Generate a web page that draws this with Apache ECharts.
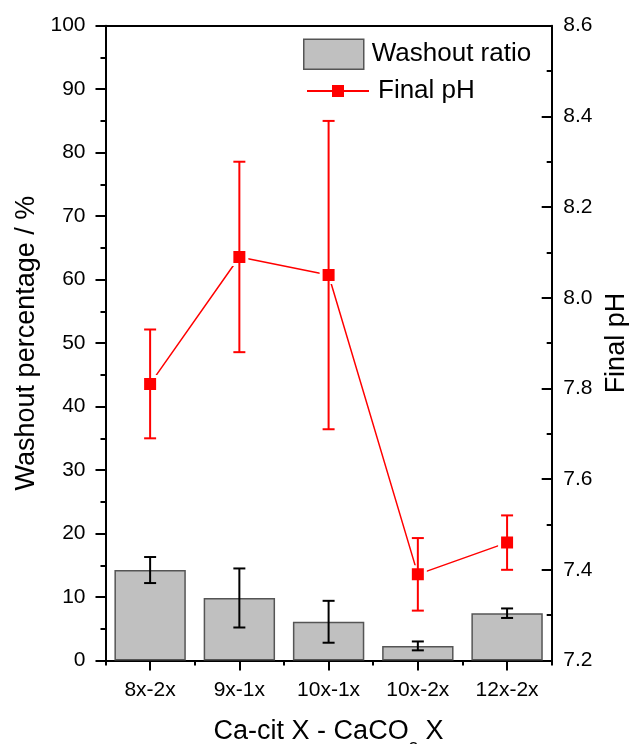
<!DOCTYPE html>
<html>
<head>
<meta charset="utf-8">
<script src="https://cdn.jsdelivr.net/npm/echarts@6/dist/echarts.min.js"></script>
<style>
  html, body { margin: 0; padding: 0; background: #ffffff; }
  #chart { width: 629px; height: 744px; }
</style>
</head>
<body>
<div id="chart"></div>
<script>
// Sample groups (Ca-citrate dose - CaCO3 dose)
const categories = ['8x-2x', '9x-1x', '10x-1x', '10x-2x', '12x-2x'];

// Washout percentage (%) with standard deviation
const washout = [14.25, 9.85, 6.1, 2.3, 7.45];
const washoutErr = [2.05, 4.65, 3.3, 0.7, 0.75];

// Final pH with standard deviation
const finalPH = [7.81, 8.09, 8.05, 7.39, 7.46];
const finalPHErr = [0.12, 0.21, 0.34, 0.08, 0.06];

const FONT = '"Liberation Sans", Arial, sans-serif';

function errorData(values, errs) {
  return values.map((v, i) => [i, v - errs[i], v + errs[i]]);
}

// Vertical whisker with caps, drawn through the axis scales
function errorRenderer(color) {
  return function (params, api) {
    const x = api.value(0);
    const top = api.coord([x, api.value(2)]);
    const bot = api.coord([x, api.value(1)]);
    const half = 6;
    const style = { stroke: color, lineWidth: 2, fill: null };
    return {
      type: 'group',
      children: [
        { type: 'line', shape: { x1: top[0], y1: top[1], x2: bot[0], y2: bot[1] }, style: style },
        { type: 'line', shape: { x1: top[0] - half, y1: top[1], x2: top[0] + half, y2: top[1] }, style: style },
        { type: 'line', shape: { x1: bot[0] - half, y1: bot[1], x2: bot[0] + half, y2: bot[1] }, style: style }
      ]
    };
  };
}

const chart = echarts.init(document.getElementById('chart'), null, { renderer: 'canvas' });

chart.setOption({
  backgroundColor: '#ffffff',
  animation: false,
  textStyle: { fontFamily: FONT, color: '#000' },
  grid: {
    left: 105.5, right: 77.3, top: 25.7, bottom: 83.5,
    containLabel: false,
    outerBoundsMode: 'none'
  },
  legend: [
    {
      data: ['Washout ratio'],
      left: 303, top: 38.5,
      orient: 'vertical',
      padding: 0,
      icon: 'rect',
      itemWidth: 60, itemHeight: 30,
      itemStyle: { borderColor: '#555555', borderWidth: 1.5 },
      textStyle: { fontFamily: FONT, fontSize: 26, color: '#000', padding: [0, 0, 0, 3] }
    },
    {
      data: ['Final pH'],
      left: 306, top: 78,
      orient: 'vertical',
      padding: 0,
      itemWidth: 62, itemHeight: 15,
      itemStyle: { borderWidth: 0 },
      textStyle: { fontFamily: FONT, fontSize: 26, color: '#000', padding: [0, 0, 0, 4] }
    }
  ],
  xAxis: [
    {
      type: 'category',
      data: categories,
      position: 'bottom',
      name: '{a|Ca-cit X - CaCO}{s|3}{a| X}',
      nameLocation: 'middle',
      nameGap: 55,
      nameTextStyle: {
        rich: {
          a: { fontFamily: FONT, fontSize: 27, color: '#000', verticalAlign: 'bottom', lineHeight: 30 },
          s: { fontFamily: FONT, fontSize: 17, color: '#000', verticalAlign: 'bottom', lineHeight: 30, padding: [0, 0, -12, 0] }
        }
      },
      axisLine: { show: true, lineStyle: { color: '#000', width: 2 } },
      axisTick: { show: true, length: 5, lineStyle: { color: '#000', width: 2 } },
      axisLabel: { fontFamily: FONT, fontSize: 21, color: '#000', margin: 19 },
      splitLine: { show: false }
    },
    {
      type: 'category',
      data: categories,
      position: 'bottom',
      axisLine: { show: false },
      axisTick: { show: true, alignWithLabel: true, length: 10, lineStyle: { color: '#000', width: 2 } },
      axisLabel: { show: false },
      splitLine: { show: false }
    },
    {
      type: 'category',
      data: categories,
      position: 'top',
      axisLine: { show: true, lineStyle: { color: '#000', width: 2 } },
      axisTick: { show: false },
      axisLabel: { show: false },
      splitLine: { show: false }
    }
  ],
  yAxis: [
    {
      type: 'value',
      min: 0, max: 100, interval: 10,
      position: 'left',
      name: 'Washout percentage / %',
      nameLocation: 'middle',
      nameRotate: 90,
      nameGap: 56,
      nameTextStyle: { fontFamily: FONT, fontSize: 27, color: '#000' },
      axisLine: { show: true, lineStyle: { color: '#000', width: 2 } },
      axisTick: { show: true, inside: false, length: 10, lineStyle: { color: '#000', width: 2 } },
      minorTick: { show: true, splitNumber: 2, length: 5, lineStyle: { color: '#000', width: 2 } },
      axisLabel: { fontFamily: FONT, fontSize: 21, color: '#000', margin: 20 },
      splitLine: { show: false }
    },
    {
      type: 'value',
      min: 7.2, max: 8.6, interval: 0.2,
      position: 'right',
      name: 'Final pH',
      nameLocation: 'middle',
      nameRotate: 90,
      nameGap: 45,
      nameTextStyle: { fontFamily: FONT, fontSize: 27, color: '#000' },
      axisLine: { show: true, lineStyle: { color: '#000', width: 2 } },
      axisTick: { show: true, inside: true, length: 10, lineStyle: { color: '#000', width: 2 } },
      minorTick: { show: true, splitNumber: 2, length: 5, lineStyle: { color: '#000', width: 2 } },
      axisLabel: { fontFamily: FONT, fontSize: 21, color: '#000', margin: 11.5, formatter: v => v.toFixed(1) },
      splitLine: { show: false }
    }
  ],
  series: [
    {
      name: 'Washout ratio',
      type: 'bar',
      xAxisIndex: 0, yAxisIndex: 0,
      data: washout,
      barWidth: '80%',
      itemStyle: { color: '#c0c0c0', borderColor: '#555555', borderWidth: 1.5 },
      z: 2
    },
    {
      name: 'washoutError',
      type: 'custom',
      xAxisIndex: 0, yAxisIndex: 0,
      data: errorData(washout, washoutErr),
      encode: { x: 0, y: [1, 2] },
      renderItem: errorRenderer('#000000'),
      z: 3
    },
    {
      name: 'Final pH',
      type: 'line',
      xAxisIndex: 0, yAxisIndex: 1,
      data: finalPH,
      symbol: 'rect',
      symbolSize: 15,
      lineStyle: { color: '#ff0000', width: 1.5 },
      itemStyle: { color: '#ff0000', borderColor: '#ffffff', borderWidth: 3 },
      z: 4
    },
    {
      name: 'phError',
      type: 'custom',
      xAxisIndex: 0, yAxisIndex: 1,
      data: errorData(finalPH, finalPHErr),
      encode: { x: 0, y: [1, 2] },
      renderItem: errorRenderer('#ff0000'),
      z: 5
    }
  ]
});
</script>
</body>
</html>
